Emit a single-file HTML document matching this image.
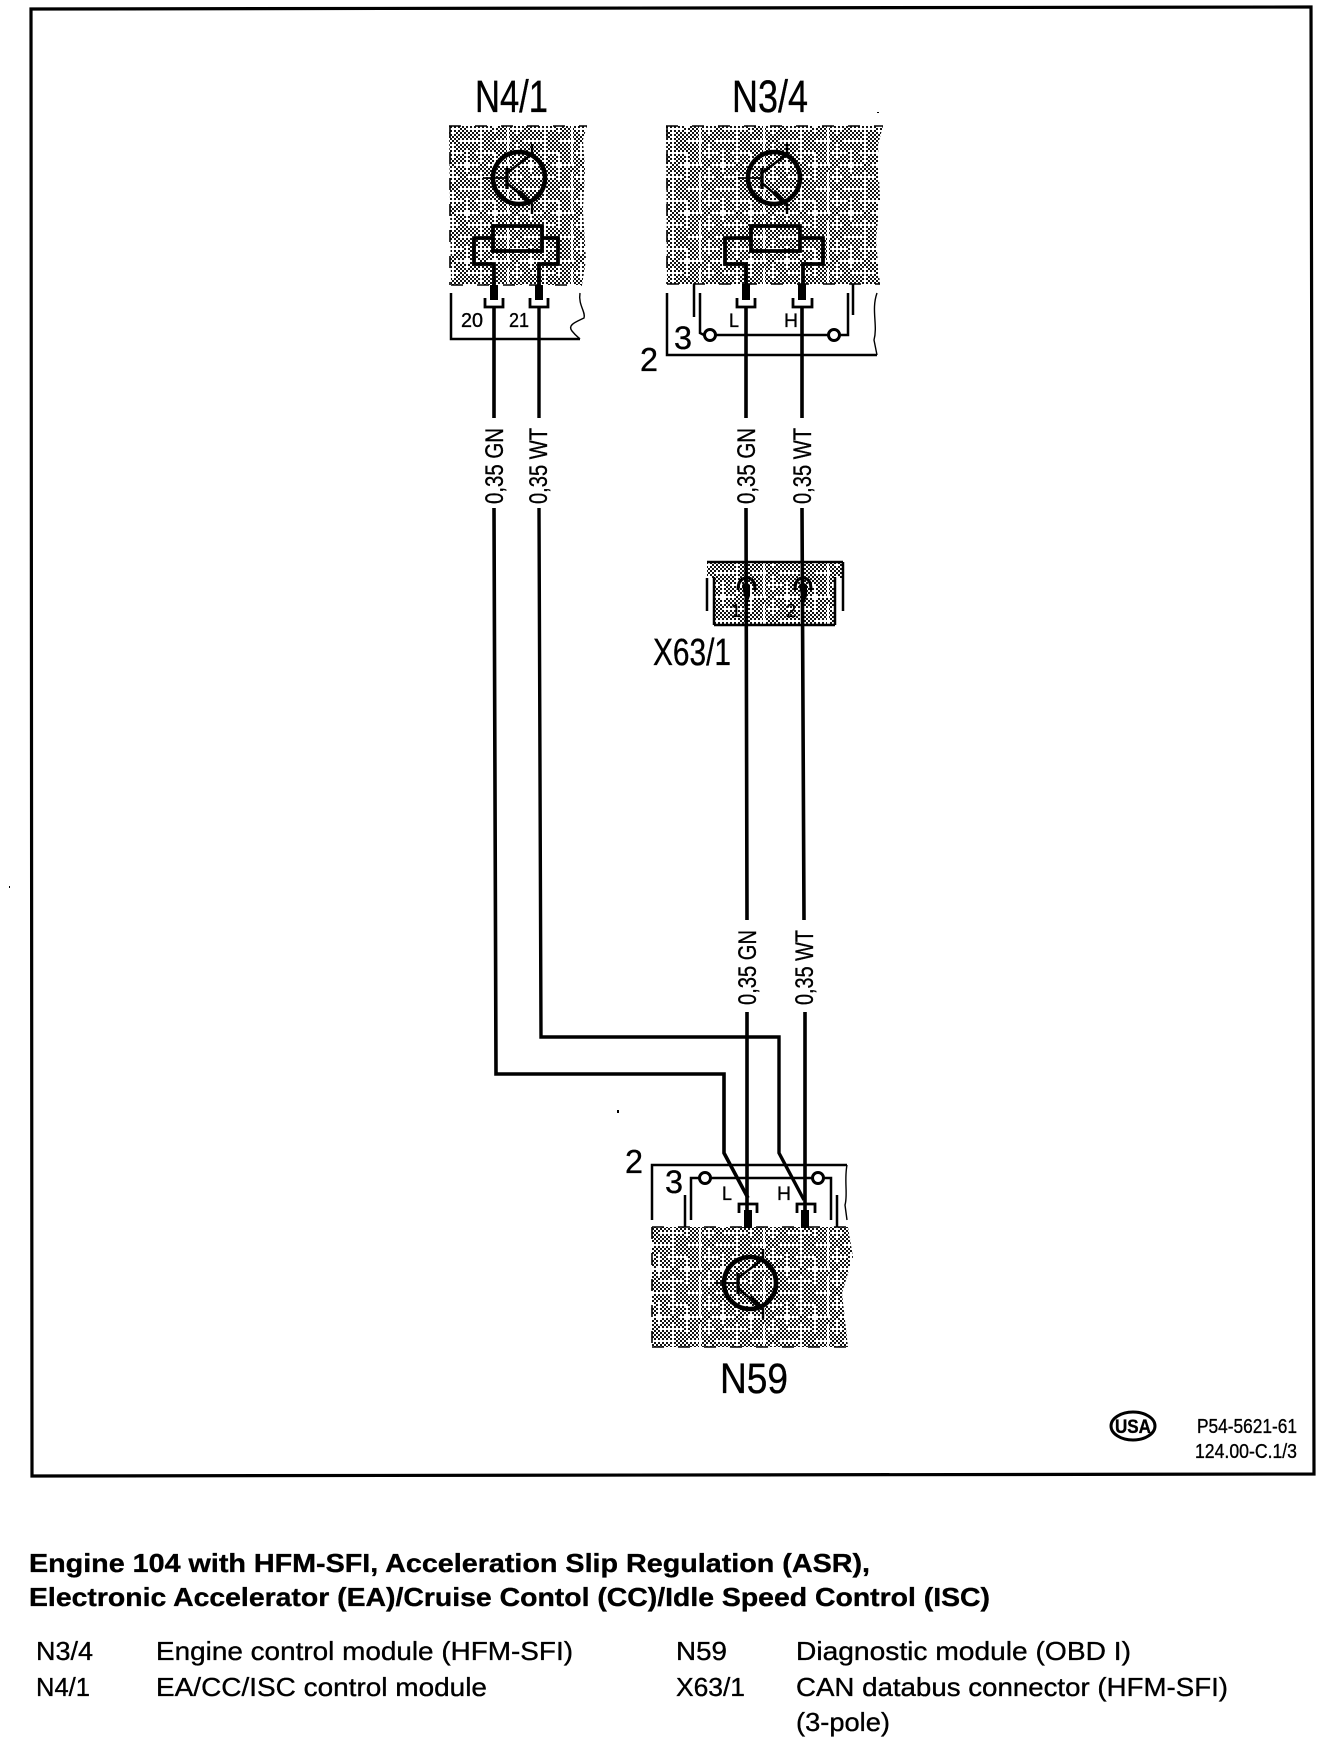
<!DOCTYPE html>
<html><head><meta charset="utf-8"><style>
html,body{margin:0;padding:0;background:#fff}
svg{display:block}
text{font-family:"Liberation Sans",sans-serif;fill:#000;stroke:#000;stroke-width:.35px}
</style></head><body>
<svg width="1328" height="1742" viewBox="0 0 1328 1742" xmlns="http://www.w3.org/2000/svg">
<defs>
<pattern id="c" width="4" height="4" patternUnits="userSpaceOnUse"><rect width="4" height="4" fill="#fff"/><rect width="2" height="2" fill="#111"/><rect x="2" y="2" width="2" height="2" fill="#111"/></pattern>
<pattern id="g" width="64" height="48" patternUnits="userSpaceOnUse">
<rect width="64" height="48" fill="url(#c)"/>
<path d="M5 0V14M5 22V40M19 6V30M33 0V18M33 26V48M47 10V36M60 0V20M60 28V48M0 9H16M26 9H48M8 21H30M40 21H64M0 33H12M20 33H44M10 45H34M46 45H64" stroke="#fff" stroke-width="2" fill="none" shape-rendering="crispEdges"/>
</pattern>
<g id="tr" fill="none" stroke="#000">
<circle r="26" stroke-width="4.6"/>
<path d="M-12 -10V11" stroke-width="3.4"/>
<path d="M-36 0H-12" stroke-width="1.8"/>
<path d="M-12 -5L13 -24V-34" stroke-width="2.4"/>
<path d="M-12 5L9 23L13 26V36" stroke-width="2.4"/>
<path d="M0 14L9 23" stroke-width="5"/>
</g>
</defs>
<rect width="1328" height="1742" fill="#fff"/>

<path d="M31 9L1311 7L1314 1474L32 1476Z" fill="none" stroke="#000" stroke-width="3.2"/>

<path d="M449 126H587L583 140L585 170L583 210L586 260L582 285H451Z" fill="url(#g)"/>
<path d="M449 126H587M451 285H582M450 126V285" fill="none" stroke="#000" stroke-width="1.6" stroke-dasharray="12 14"/>
<path d="M666 126H883L878 145L880 200L876 240L880 284H667Z" fill="url(#g)"/>
<path d="M666 126H883M667 284H880M667 126V284" fill="none" stroke="#000" stroke-width="1.6" stroke-dasharray="12 14"/>
<path d="M652 1227H848L853 1257L842 1293L848 1347H652Z" fill="url(#g)"/>
<path d="M652 1227H848M652 1347H848M652 1227V1347" fill="none" stroke="#000" stroke-width="1.6" stroke-dasharray="12 14"/>
<path d="M707 562H843V578H835V625H714V578H707Z" fill="url(#g)"/>

<use href="#tr" x="519" y="178"/>
<use href="#tr" x="774" y="178"/>
<use href="#tr" x="750" y="1283"/>

<g fill="none" stroke="#000" stroke-width="3.8">
<rect x="493" y="226" width="49" height="25"/>
<path d="M493 238H474V264H494V286M542 238H558V264H539V286"/>
<rect x="751" y="226" width="49" height="25"/>
<path d="M751 238H725V264H746V286M800 238H823V264H803V286"/>
</g>

<g fill="#000">
<rect x="490" y="285" width="8" height="15"/><rect x="535" y="285" width="8" height="15"/>
<rect x="742" y="284" width="8" height="16"/><rect x="798" y="284" width="8" height="16"/>
<rect x="744" y="1210" width="8" height="18"/><rect x="801" y="1210" width="8" height="18"/>
<path d="M742 585Q746 581 750 585V596L747 604L744 596Z"/>
<path d="M799 585Q803 581 807 585V596L804 604L801 596Z"/>
</g>

<g fill="none" stroke="#000" stroke-width="2.8">
<path d="M485 298V307H503V298M530 298V307H548V298M737 298V307H755V298M793 298V307H812V298"/>
<path d="M739 1213V1204H757V1213M797 1213V1204H815V1213"/>
</g>
<g fill="none" stroke="#000" stroke-width="3">
<path d="M738 590Q738 578 747 578Q755 578 755 590M795 590Q795 578 803 578Q811 578 811 590"/>
</g>

<g fill="none" stroke="#000" stroke-width="2.5">
<path d="M451 293V339H580"/>
<path d="M580 293C578 305 586 312 584 318C576 322 567 325 572 331C576 336 578 337 580 339" stroke-width="1.4"/>
<path d="M667 293V355H877"/>
<path d="M877 293C871 310 878 325 874 340L877 355" stroke-width="1.4"/>
<path d="M694 284V317M853 284V315"/>
<path d="M700 293V333L704 335M716 335H829M840 335H848V293"/>
<circle cx="710" cy="335" r="5.5" stroke-width="3"/><circle cx="834" cy="335" r="5.5" stroke-width="3"/>
<path d="M652 1220V1165H847"/>
<path d="M847 1165C844 1180 848 1195 845 1205L847 1220" stroke-width="1.4"/>
<path d="M685 1195V1227M837 1195V1227"/>
<path d="M691 1220V1178H699M711 1178H812M824 1178H831V1220"/>
<circle cx="705" cy="1178" r="5.5" stroke-width="3"/><circle cx="818" cy="1178" r="5.5" stroke-width="3"/>
<path d="M707 578V611M843 562V611M714 577V625M835 577V625M707 562H843M714 625H835"/>
</g>

<g fill="none" stroke="#000">
<path d="M494 307V418M494 508L496 1074H724V1153L748 1198" stroke-width="3.6"/>
<path d="M539 307V418M539 508L541 1037H779V1153L804 1200" stroke-width="3.4"/>
<path d="M746 307V418M746 508L747 920M747 1012V1210" stroke-width="3.6"/>
<path d="M802 307V418M802 508L804 920M805 1012V1210" stroke-width="3.6"/>
</g>

<text x="475" y="112" font-size="45" textLength="73" lengthAdjust="spacingAndGlyphs">N4/1</text>
<text x="732" y="112" font-size="45" textLength="76" lengthAdjust="spacingAndGlyphs">N3/4</text>
<text x="720" y="1393" font-size="43" textLength="68" lengthAdjust="spacingAndGlyphs">N59</text>
<text x="653" y="665" font-size="38" textLength="78" lengthAdjust="spacingAndGlyphs">X63/1</text>

<text x="461" y="327" font-size="20" textLength="22" lengthAdjust="spacingAndGlyphs">20</text>
<text x="509" y="327" font-size="20" textLength="20" lengthAdjust="spacingAndGlyphs">21</text>
<text x="729" y="327" font-size="19" textLength="10" lengthAdjust="spacingAndGlyphs">L</text>
<text x="784" y="327" font-size="19" textLength="14" lengthAdjust="spacingAndGlyphs">H</text>
<text x="722" y="1200" font-size="19" textLength="10" lengthAdjust="spacingAndGlyphs">L</text>
<text x="777" y="1200" font-size="19" textLength="14" lengthAdjust="spacingAndGlyphs">H</text>
<text x="674" y="349" font-size="32" textLength="18" lengthAdjust="spacingAndGlyphs">3</text>
<text x="640" y="371" font-size="33" textLength="18" lengthAdjust="spacingAndGlyphs">2</text>
<text x="665" y="1193" font-size="32" textLength="18" lengthAdjust="spacingAndGlyphs">3</text>
<text x="625" y="1173" font-size="33" textLength="18" lengthAdjust="spacingAndGlyphs">2</text>
<text x="731" y="617" font-size="18">1</text>
<text x="786" y="617" font-size="18">2</text>

<g font-size="25">
<text transform="translate(503 504) rotate(-90)" textLength="76" lengthAdjust="spacingAndGlyphs">0,35 GN</text>
<text transform="translate(547 504) rotate(-90)" textLength="76" lengthAdjust="spacingAndGlyphs">0,35 WT</text>
<text transform="translate(755 504) rotate(-90)" textLength="76" lengthAdjust="spacingAndGlyphs">0,35 GN</text>
<text transform="translate(811 504) rotate(-90)" textLength="76" lengthAdjust="spacingAndGlyphs">0,35 WT</text>
<text transform="translate(756 1005) rotate(-90)" textLength="75" lengthAdjust="spacingAndGlyphs">0,35 GN</text>
<text transform="translate(813 1005) rotate(-90)" textLength="75" lengthAdjust="spacingAndGlyphs">0,35 WT</text>
</g>

<ellipse cx="1133" cy="1426" rx="22" ry="14" fill="none" stroke="#000" stroke-width="3"/>
<text x="1115" y="1433" font-size="19" font-weight="bold" textLength="36" lengthAdjust="spacingAndGlyphs">USA</text>
<text x="1197" y="1433" font-size="20" textLength="100" lengthAdjust="spacingAndGlyphs">P54-5621-61</text>
<text x="1195" y="1458" font-size="20" textLength="102" lengthAdjust="spacingAndGlyphs">124.00-C.1/3</text>

<text x="29" y="1572" font-size="26" font-weight="bold" textLength="841" lengthAdjust="spacingAndGlyphs">Engine 104 with HFM-SFI, Acceleration Slip Regulation (ASR),</text>
<text x="29" y="1606" font-size="26" font-weight="bold" textLength="961" lengthAdjust="spacingAndGlyphs">Electronic Accelerator (EA)/Cruise Contol (CC)/Idle Speed Control (ISC)</text>

<g font-size="26">
<text x="36" y="1660" textLength="57" lengthAdjust="spacingAndGlyphs">N3/4</text>
<text x="156" y="1660" textLength="417" lengthAdjust="spacingAndGlyphs">Engine control module (HFM-SFI)</text>
<text x="676" y="1660" textLength="51" lengthAdjust="spacingAndGlyphs">N59</text>
<text x="796" y="1660" textLength="335" lengthAdjust="spacingAndGlyphs">Diagnostic module (OBD I)</text>
<text x="36" y="1696" textLength="54" lengthAdjust="spacingAndGlyphs">N4/1</text>
<text x="156" y="1696" textLength="331" lengthAdjust="spacingAndGlyphs">EA/CC/ISC control module</text>
<text x="676" y="1696" textLength="69" lengthAdjust="spacingAndGlyphs">X63/1</text>
<text x="796" y="1696" textLength="432" lengthAdjust="spacingAndGlyphs">CAN databus connector (HFM-SFI)</text>
<text x="796" y="1731" textLength="94" lengthAdjust="spacingAndGlyphs">(3-pole)</text>
</g>

<rect x="617" y="1110" width="2" height="3" fill="#000"/>
<rect x="9" y="886" width="1" height="2" fill="#000"/>
<rect x="877" y="112" width="2" height="1" fill="#000"/>
</svg>
</body></html>
